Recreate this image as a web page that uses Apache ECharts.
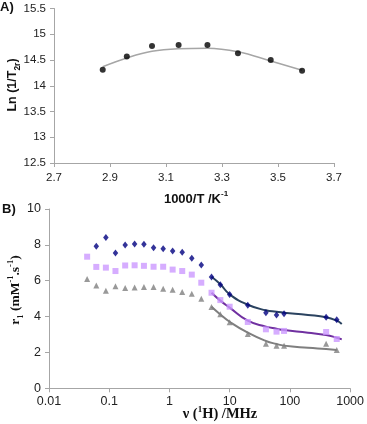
<!DOCTYPE html>
<html>
<head>
<meta charset="utf-8">
<script src="https://cdn.jsdelivr.net/npm/echarts@6/dist/echarts.min.js"></script>
<style>
  html, body { margin: 0; padding: 0; background: #fff; }
  #chart { width: 367px; height: 424px; }
</style>
</head>
<body>
<div id="chart"></div>
<script>
// A) Ln(1/T2r) vs 1000/T
const invTemp = [2.874, 2.96, 3.05, 3.145, 3.248, 3.357, 3.474, 3.586];
const lnT2r = [14.31, 14.57, 14.77, 14.79, 14.79, 14.63, 14.50, 14.29];
const lnT2rFit = [14.37, 14.54, 14.67, 14.72, 14.73, 14.66, 14.48, 14.30];

// B) NMRD profiles
const freq = [0.043, 0.061, 0.088, 0.127, 0.184, 0.264, 0.377, 0.545, 0.787, 1.13, 1.63, 2.35, 3.38, 5, 7, 10, 20, 40, 60, 80, 400, 600];
const r1Blue = [null, 7.92, 8.41, 7.55, 7.99, 8.05, 8.04, 7.84, 7.79, 7.66, 7.59, 7.26, 6.87, 6.21, 5.77, 5.23, 4.63, 4.22, 4.09, 4.16, 3.96, 3.83];
const r1Purple = [7.34, 6.77, 6.73, 6.54, 6.85, 6.86, 6.83, 6.78, 6.78, 6.62, 6.54, 6.34, 5.89, 5.33, 4.92, 4.55, 3.70, 3.29, 3.16, 3.20, 3.14, 2.75];
const r1Gray = [6.09, 5.73, 5.44, 5.69, 5.60, 5.62, 5.65, 5.65, 5.55, 5.49, 5.37, 5.28, 5.00, 4.54, 4.13, 3.68, 3.03, 2.49, 2.38, 2.38, 2.49, 2.14];

const fitFreq = [5, 7, 10, 20, 40, 60, 80, 200, 400, 600, 727];
const blueFit = [6.22, 5.80, 5.24, 4.66, 4.35, 4.27, 4.22, 4.09, 3.96, 3.77, 3.59];
const purpleFit = [5.33, 4.89, 4.50, 3.77, 3.44, 3.32, 3.25, 3.10, 2.97, 2.82, 2.73];
const grayFitFreq = [5, 7, 10, 20, 40, 60, 80, 200, 400, 600];
const grayFit = [4.55, 4.12, 3.71, 3.10, 2.64, 2.47, 2.38, 2.26, 2.19, 2.14];

const zip = (xs, ys) => xs.map((x, i) => [x, ys[i]]).filter(p => p[1] != null);

const chart = echarts.init(document.getElementById('chart'));

const axisLine = { lineStyle: { color: '#a6a6a6', width: 1 } };
const axisTick = { show: true, length: 4, inside: false, lineStyle: { color: '#a6a6a6' } };

chart.setOption({
  animation: false,
  grid: [
    { left: 54, top: 8.5, width: 280, height: 154.5 },
    { left: 49, top: 209, width: 302.7, height: 179.3 }
  ],
  xAxis: [
    {
      gridIndex: 0, type: 'value', min: 2.7, max: 3.7, interval: 0.2,
      axisLine: axisLine, axisTick: axisTick, splitLine: { show: false },
      axisLabel: { color: '#222', fontSize: 11.5, fontFamily: 'Liberation Sans', margin: 9,
        formatter: v => v.toFixed(1) }
    },
    {
      gridIndex: 1, type: 'log', logBase: 10, min: 0.01, max: 1000,
      axisLine: axisLine, axisTick: axisTick, splitLine: { show: false },
      minorTick: { show: false },
      axisLabel: { color: '#222', fontSize: 12.5, fontFamily: 'Liberation Sans', margin: 7,
        formatter: v => String(+v.toPrecision(3)) }
    }
  ],
  yAxis: [
    {
      gridIndex: 0, type: 'value', min: 12.5, max: 15.5, interval: 0.5,
      axisLine: { show: true, lineStyle: { color: '#a6a6a6' } }, axisTick: axisTick, splitLine: { show: false },
      axisLabel: { color: '#222', fontSize: 11.5, fontFamily: 'Liberation Sans', margin: 8 }
    },
    {
      gridIndex: 1, type: 'value', min: 0, max: 10, interval: 2,
      axisLine: { show: true, lineStyle: { color: '#a6a6a6' } }, axisTick: axisTick, splitLine: { show: false },
      axisLabel: { color: '#222', fontSize: 12.5, fontFamily: 'Liberation Sans', margin: 8 }
    }
  ],
  graphic: [
    { type: 'text', left: 0, top: 1, style: { text: 'A)', font: 'bold 13px Liberation Sans', fill: '#111' } },
    { type: 'text', left: 2, top: 203, style: { text: 'B)', font: 'bold 13px Liberation Sans', fill: '#111' } },
    {
      type: 'text', x: 13, y: 85, rotation: Math.PI / 2,
      style: {
        text: '{a|Ln (1/T}{s|2r}{a|)}', align: 'center', verticalAlign: 'middle',
        rich: {
          a: { font: 'bold 12.5px Liberation Sans', fill: '#111', lineHeight: 19, verticalAlign: 'middle' },
          s: { font: 'bold 8.5px Liberation Sans', fill: '#111', lineHeight: 10, verticalAlign: 'bottom' }
        }
      }
    },
    {
      type: 'text', x: 196, y: 199,
      style: {
        text: '{a|1000/T /K}{s|-1}', align: 'center', verticalAlign: 'middle',
        rich: {
          a: { font: 'bold 13px Liberation Sans', fill: '#111', lineHeight: 18, verticalAlign: 'middle' },
          s: { font: 'bold 8px Liberation Sans', fill: '#111', lineHeight: 10, verticalAlign: 'top' }
        }
      }
    },
    {
      type: 'text', x: 16, y: 290, rotation: Math.PI / 2,
      style: {
        text: '{a|r}{s|1}{a| (mM}{p|-1}{a|.s}{p|-1}{a|)}', align: 'center', verticalAlign: 'middle',
        rich: {
          a: { font: 'bold 13.5px Liberation Serif', fill: '#111', lineHeight: 19, verticalAlign: 'middle' },
          s: { font: 'bold 8.5px Liberation Serif', fill: '#111', lineHeight: 10, verticalAlign: 'bottom' },
          p: { font: 'bold 8.5px Liberation Serif', fill: '#111', lineHeight: 10, verticalAlign: 'top' }
        }
      }
    },
    {
      type: 'text', x: 220, y: 414,
      style: {
        text: '{a|ν (}{p|1}{a|H) /MHz}', align: 'center', verticalAlign: 'middle',
        rich: {
          a: { font: 'bold 14.5px Liberation Serif', fill: '#111', lineHeight: 18, verticalAlign: 'middle' },
          p: { font: 'bold 9px Liberation Serif', fill: '#111', lineHeight: 10, verticalAlign: 'top' }
        }
      }
    }
  ],
  series: [
    {
      type: 'line', xAxisIndex: 0, yAxisIndex: 0, data: zip(invTemp, lnT2rFit),
      smooth: 0.4, showSymbol: false, lineStyle: { color: '#a6a6a6', width: 1.5 }, z: 1
    },
    {
      type: 'scatter', xAxisIndex: 0, yAxisIndex: 0, data: zip(invTemp, lnT2r),
      symbol: 'circle', symbolSize: 6, itemStyle: { color: '#000' }, z: 3
    },
    {
      type: 'line', xAxisIndex: 1, yAxisIndex: 1, data: zip(fitFreq, blueFit),
      smooth: true, showSymbol: false, lineStyle: { color: '#2b4360', width: 2 }, z: 1
    },
    {
      type: 'line', xAxisIndex: 1, yAxisIndex: 1, data: zip(fitFreq, purpleFit),
      smooth: true, showSymbol: false, lineStyle: { color: '#7030a0', width: 2 }, z: 1
    },
    {
      type: 'line', xAxisIndex: 1, yAxisIndex: 1, data: zip(grayFitFreq, grayFit),
      smooth: true, showSymbol: false, lineStyle: { color: '#7f7f7f', width: 2 }, z: 1
    },
    {
      type: 'scatter', xAxisIndex: 1, yAxisIndex: 1, data: zip(freq, r1Blue),
      symbol: 'diamond', symbolSize: [5.5, 7], itemStyle: { color: '#000080' }, z: 3
    },
    {
      type: 'scatter', xAxisIndex: 1, yAxisIndex: 1, data: zip(freq, r1Purple),
      symbol: 'rect', symbolSize: 6, itemStyle: { color: '#cc99ff' }, z: 3
    },
    {
      type: 'scatter', xAxisIndex: 1, yAxisIndex: 1, data: zip(freq, r1Gray),
      symbol: 'triangle', symbolSize: 6, itemStyle: { color: '#808080' }, z: 3
    }
  ]
});
</script>
</body>
</html>
